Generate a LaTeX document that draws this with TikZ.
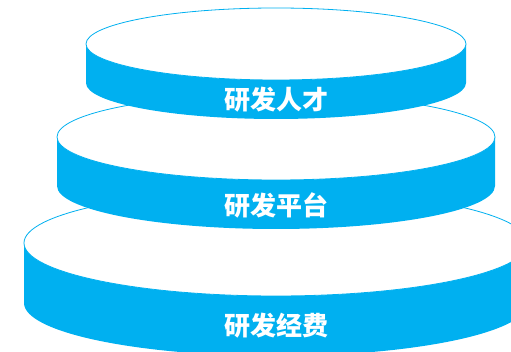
\documentclass[tikz,border=0pt]{standalone}
\usepackage{fontspec}
\newfontfamily\cjk{Noto Sans CJK SC}
\definecolor{discblue}{RGB}{0,176,240}
\tikzset{
  band/.style={fill=discblue,draw=none},
  face/.style={fill=white,draw=discblue,line width=.8pt},
  label/.style={text=white,font=\cjk\bfseries\fontsize{26}{26}\selectfont,inner sep=0pt}
}
\begin{document}
\begin{tikzpicture}[x=1pt,y=1pt]
  \clip (0,0) rectangle (511,352);
  % bottom disc
  \fill[band] (24,109) -- (24,49) arc[start angle=180,end angle=360,x radius=252,y radius=53]
    -- (528,109) arc[start angle=0,end angle=-180,x radius=252,y radius=53] -- cycle;
  \draw[face] (276,109) ellipse (252 and 53);
  \node[label] (jingfei) at (276,26) {研发经费};
  % middle disc
  \fill[band] (57,215) -- (57,166) arc[start angle=180,end angle=360,x radius=219,y radius=43]
    -- (495,215) arc[start angle=0,end angle=-180,x radius=219,y radius=43] -- cycle;
  \draw[face] (276,215) ellipse (219 and 43);
  \node[label] (pingtai) at (276,147) {研发平台};
  % top disc
  \fill[band] (86,308) -- (86,269) arc[start angle=180,end angle=360,x radius=190,y radius=36]
    -- (466,308) arc[start angle=0,end angle=-180,x radius=190,y radius=36] -- cycle;
  \draw[face] (276,308) ellipse (190 and 36);
  \node[label] (rencai) at (276,252) {研发人才};
\end{tikzpicture}
\end{document}
